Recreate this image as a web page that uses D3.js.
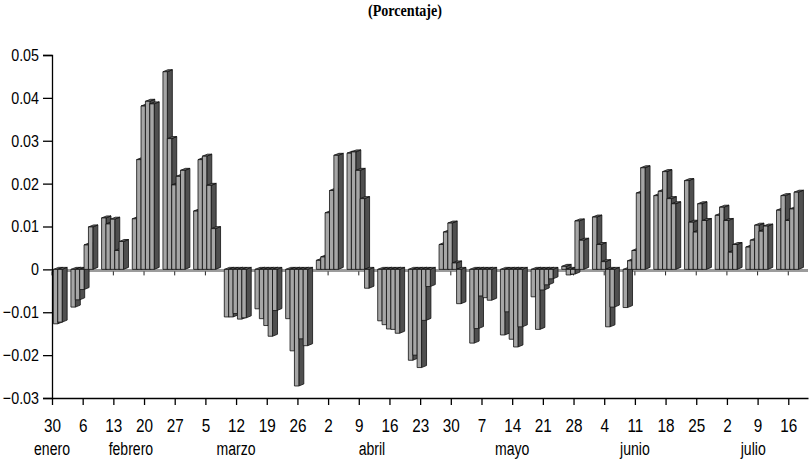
<!DOCTYPE html>
<html lang="es">
<head>
<meta charset="UTF-8">
<title>(Porcentaje)</title>
<script src="https://d3js.org/d3.v7.min.js"></script>
<style>
  body { margin: 0; background: #fff; }
  svg { display: block; background: #fff; }
</style>
</head>
<body>
<svg id="chart" width="810" height="460"></svg>
<script>
const width = 810, height = 460;

// lunes de cada semana (2008)
const semanas = [
  "2008-01-28", "2008-02-04", "2008-02-11", "2008-02-18", "2008-02-25",
  "2008-03-03", "2008-03-10", "2008-03-17", "2008-03-24", "2008-03-31",
  "2008-04-07", "2008-04-14", "2008-04-21", "2008-04-28", "2008-05-05",
  "2008-05-12", "2008-05-19", "2008-05-26", "2008-06-02", "2008-06-09",
  "2008-06-16", "2008-06-23", "2008-06-30", "2008-07-07", "2008-07-14"
];

// valores diarios, lunes a viernes (null = sin dato)
const valores = [
  [null, null, null, -0.0127, -0.0123],
  [-0.0088, -0.0071, -0.0047, 0.0057, 0.0099],
  [0.0120, 0.0106, 0.0117, 0.0044, 0.0065],
  [0.0118, 0.0256, 0.0381, 0.0392, 0.0386],
  [0.0461, 0.0305, 0.0197, 0.0217, 0.0231],
  [0.0136, 0.0256, 0.0264, 0.0196, 0.0095],
  [-0.0111, -0.0111, -0.0103, -0.0116, -0.0113],
  [-0.0092, -0.0115, -0.0131, -0.0156, -0.0096],
  [-0.0115, -0.0190, -0.0272, -0.0162, -0.0178],
  [0.0021, 0.0029, 0.0132, 0.0184, 0.0266],
  [0.0271, 0.0274, 0.0231, 0.0165, -0.0044],
  [-0.0120, -0.0129, -0.0139, -0.0140, -0.0149],
  [-0.0212, -0.0200, -0.0229, -0.0119, -0.0040],
  [0.0058, 0.0087, 0.0108, 0.0015, -0.0080],
  [-0.0172, -0.0138, -0.0062, -0.0066, -0.0072],
  [-0.0153, -0.0099, -0.0163, -0.0181, -0.0134],
  [-0.0064, -0.0140, -0.0048, -0.0036, -0.0022],
  [0.0007, -0.0013, -0.0011, 0.0113, 0.0068],
  [0.0122, 0.0058, 0.0018, -0.0134, -0.0088],
  [-0.0089, 0.0020, 0.0044, 0.0178, 0.0237],
  [0.0172, 0.0182, 0.0228, 0.0165, 0.0153],
  [0.0207, 0.0110, 0.0087, 0.0153, 0.0114],
  [0.0126, 0.0145, 0.0114, 0.0040, 0.0058],
  [0.0052, 0.0068, 0.0103, 0.0089, 0.0101],
  [0.0138, 0.0172, 0.0114, 0.0141, 0.0180]
];

// marcas del eje x (miércoles)
const ticksSemana = [
  "2008-01-30", "2008-02-06", "2008-02-13", "2008-02-20", "2008-02-27",
  "2008-03-05", "2008-03-12", "2008-03-19", "2008-03-26", "2008-04-02",
  "2008-04-09", "2008-04-16", "2008-04-23", "2008-04-30", "2008-05-07",
  "2008-05-14", "2008-05-21", "2008-05-28", "2008-06-04", "2008-06-11",
  "2008-06-18", "2008-06-25", "2008-07-02", "2008-07-09", "2008-07-16"
];

const mesesNombre = ["enero", "febrero", "marzo", "abril", "mayo", "junio", "julio"];
const mesesFecha = ["2008-01-30", "2008-02-17", "2008-03-12", "2008-04-12", "2008-05-14", "2008-06-11", "2008-07-08"];

const yTicks = [-0.03, -0.02, -0.01, 0, 0.01, 0.02, 0.03, 0.04, 0.05];

const parse = d3.utcParse("%Y-%m-%d");
const sans = "'Liberation Sans', Arial, sans-serif";

// estrecha el texto (la fuente del original es condensada)
function condensar(sel, k) {
  sel.each(function() {
    const w = this.getComputedTextLength();
    d3.select(this).attr("textLength", w * k).attr("lengthAdjust", "spacingAndGlyphs");
  });
}

// una fila por día con dato
const dias = [];
semanas.forEach((s, i) => {
  valores[i].forEach((v, j) => {
    if (v !== null) dias.push({ fecha: d3.utcDay.offset(parse(s), j), valor: v });
  });
});

const svg = d3.select("#chart");

const x = d3.scaleUtc()
  .domain([parse("2008-01-30"), d3.utcHour.offset(parse("2008-07-20"), 12)])
  .range([52, 808]);

const y = d3.scaleLinear()
  .domain([-0.03, 0.05])
  .range([398, 55]);

// titulo
svg.append("text")
  .attr("x", 405)
  .attr("y", 16)
  .attr("text-anchor", "middle")
  .attr("font-family", "'Liberation Serif', serif")
  .attr("font-weight", "bold")
  .attr("font-size", 16)
  .text("(Porcentaje)")
  .call(condensar, 0.88);

// piso gris en cero
const y0 = y(0);
svg.append("line")
  .attr("x1", 52).attr("x2", 808)
  .attr("y1", y0 + 1).attr("y2", y0 + 1)
  .attr("stroke", "#9c9c9c")
  .attr("stroke-width", 3);

svg.selectAll("line.piso-tick")
  .data(ticksSemana.map(parse))
  .join("line")
  .attr("class", "piso-tick")
  .attr("x1", d => x(d)).attr("x2", d => x(d))
  .attr("y1", y0 + 2).attr("y2", y0 + 6)
  .attr("stroke", "#222")
  .attr("stroke-width", 1);

// barras 3D
const fw = 4.4, dx = 5, dy = 2;
svg.selectAll("g.barra")
  .data(dias)
  .join("g")
  .attr("class", "barra")
  .attr("stroke", "#111")
  .attr("stroke-width", 0.8)
  .attr("stroke-linejoin", "round")
  .each(function(d) {
    const g = d3.select(this);
    const x0 = x(d.fecha) - 3, x1 = x0 + fw;
    const yv = y(d.valor);
    const top = Math.min(y0, yv), bot = Math.max(y0, yv);
    g.append("path")
      .attr("d", `M${x1},${top}L${x1 + dx},${top - dy}L${x1 + dx},${bot - dy}L${x1},${bot}Z`)
      .attr("fill", "#4f4f4f");
    g.append("path")
      .attr("d", `M${x0},${top}L${x0 + dx},${top - dy}L${x1 + dx},${top - dy}L${x1},${top}Z`)
      .attr("fill", "#6a6a6a");
    g.append("rect")
      .attr("x", x0).attr("y", top)
      .attr("width", fw).attr("height", bot - top)
      .attr("fill", "#a6a6a6");
  });

// eje y
svg.append("g")
  .attr("transform", "translate(52,0)")
  .call(d3.axisLeft(y)
    .tickValues(yTicks)
    .tickSize(9)
    .tickPadding(4)
    .tickFormat(d => d === 0 ? "0" : d3.format(".2f")(d)))
  .call(g => g.attr("font-family", sans).attr("font-size", 17))
  .call(g => g.selectAll("path, line").attr("stroke", "#000").attr("stroke-width", 1.3))
  .call(g => g.selectAll("text").call(condensar, 0.84));

// eje x
svg.append("g")
  .attr("transform", "translate(0,398)")
  .call(d3.axisBottom(x)
    .tickValues(ticksSemana.map(parse))
    .tickSize(7)
    .tickSizeOuter(0)
    .tickPadding(14)
    .tickFormat(d => d.getUTCDate()))
  .call(g => g.attr("font-family", sans).attr("font-size", 18))
  .call(g => g.selectAll("path, line").attr("stroke", "#000").attr("stroke-width", 1.3))
  .call(g => g.selectAll("text").call(condensar, 0.85));

// meses
svg.selectAll("text.mes")
  .data(mesesNombre)
  .join("text")
  .attr("class", "mes")
  .attr("x", (d, i) => x(parse(mesesFecha[i])))
  .attr("y", 455)
  .attr("text-anchor", "middle")
  .attr("font-family", sans)
  .attr("font-size", 18)
  .text(d => d)
  .call(condensar, 0.78);
</script>
</body>
</html>
